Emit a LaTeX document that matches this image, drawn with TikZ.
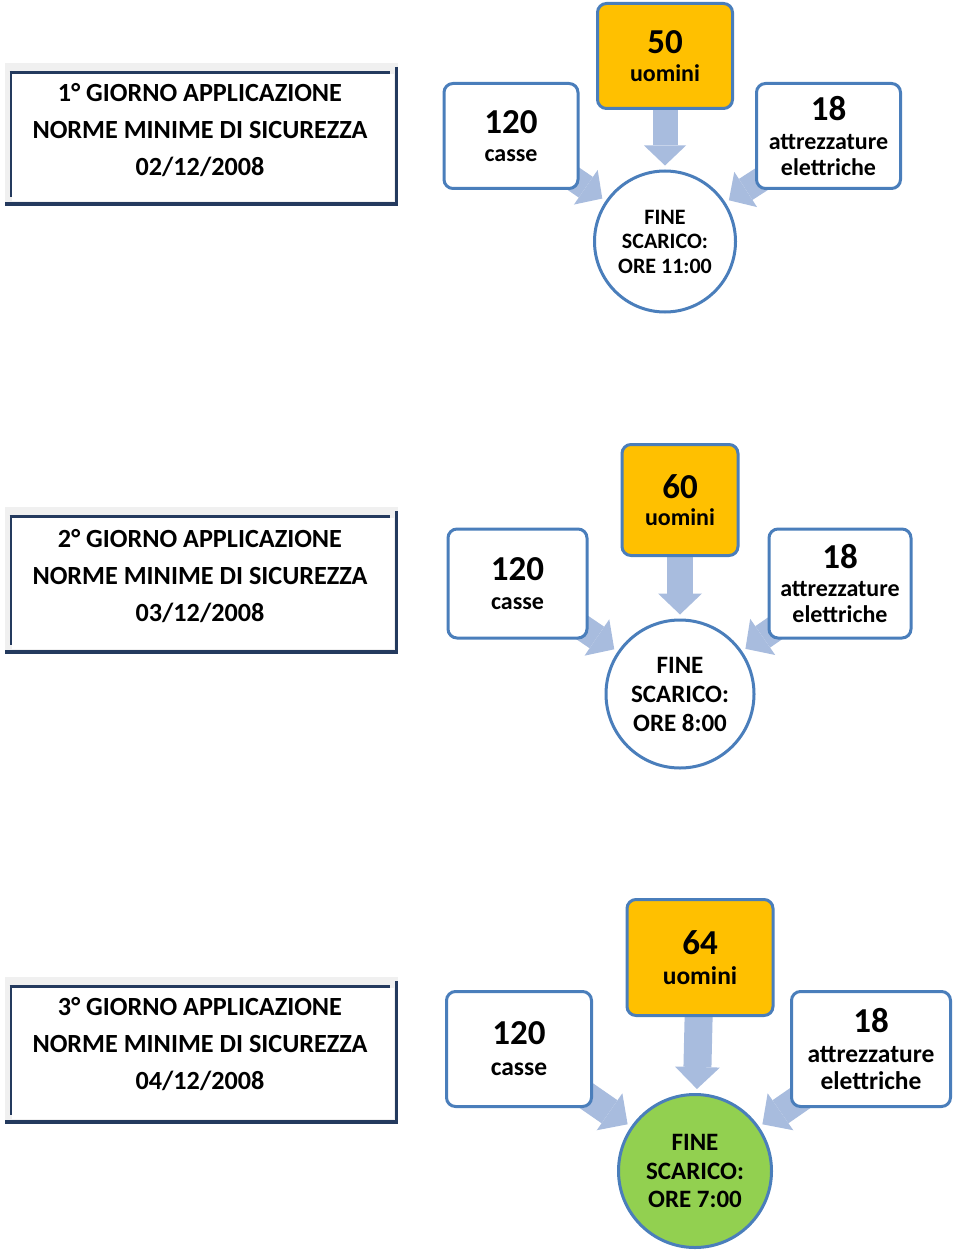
\documentclass[tikz,border=0pt]{standalone}
\usepackage{fontspec}
\setmainfont{Carlito}
\usetikzlibrary{arrows.meta,backgrounds}
\definecolor{boxblue}{RGB}{74,126,187}
\definecolor{arrowblue}{RGB}{168,188,222}
\definecolor{menorange}{RGB}{255,192,0}
\definecolor{endgreen}{RGB}{146,208,80}
\definecolor{framenavy}{RGB}{36,58,94}
\definecolor{framegrey}{RGB}{240,240,240}
\tikzset{
  titletext/.style={align=center, inner sep=0pt, font=\bfseries\fontsize{26.2}{37}\selectfont},
  infobox/.style={draw=boxblue, line width=3pt, rounded corners=9pt, fill=white, align=center, inner sep=0pt, font=\bfseries\fontsize{24}{26}\selectfont},
  menbox/.style={infobox, fill=menorange},
  endcircle/.style={circle, draw=boxblue, line width=3pt, fill=white, align=center, inner sep=0pt},
  flow/.style n args={3}{draw=arrowblue, line width=#1pt, shorten >=4pt,
    -{Triangle[length=#2pt, width=#3pt, line width=0pt]}},
}
\newcommand\bignum[1]{{\fontsize{35}{35}\selectfont #1}}
\newcommand\dayframe[2]{%
  \fill[framegrey] (5,#1-8) rectangle (398,#1+#2+2);
  \fill[white] (12,#1+3) rectangle (394,#1+#2-3);
  \draw[framenavy, line width=3pt] (9.5,#1+1.5) -- (390,#1+1.5);
  \draw[framenavy, line width=2.5pt] (10.75,#1) -- (10.75,#1+#2-7);
  \draw[framenavy, line width=4pt] (5,#1+#2) -- (398,#1+#2);
  \draw[framenavy, line width=2.5pt] (396.5,#1-4) -- (396.5,#1+#2+2);
}
\begin{document}
\begin{tikzpicture}[x=1pt,y=-1pt]
\useasboundingbox (0,0) rectangle (960,1257);

% ---------- Day 1 ----------
\dayframe{71}{133.5}
\node[titletext] (title1) at (200,130) {1° GIORNO APPLICAZIONE\\NORME MINIME DI SICUREZZA\\02/12/2008};
\node[infobox, minimum width=134pt, minimum height=105pt] (casse1) at (511,136) {\bignum{120}\\[2.5pt]casse};
\node[menbox, minimum width=135pt, minimum height=105pt] (men1) at (665,56) {\bignum{50}\\[1.5pt]uomini};
\node[infobox, minimum width=144pt, minimum height=105pt] (tools1) at (828.5,136) {\bignum{18}\\[2.5pt]attrezzature\\elettriche};
\node[endcircle, minimum size=141pt, font=\bfseries\fontsize{22}{24.5}\selectfont] (fine1) at (665,241.5) {FINE\\SCARICO:\\ORE 11:00};
\begin{scope}[on background layer]
  \draw[flow={25}{20}{42}] (casse1.center) -- (fine1);
  \draw[flow={25}{20}{42}] (men1.center) -- (fine1);
  \draw[flow={25}{20}{42}] (tools1.center) -- (fine1);
\end{scope}

% ---------- Day 2 ----------
\dayframe{515}{137}
\node[titletext] (title2) at (200,576) {2° GIORNO APPLICAZIONE\\NORME MINIME DI SICUREZZA\\03/12/2008};
\node[infobox, minimum width=139pt, minimum height=109pt] (casse2) at (517.5,583.5) {\bignum{120}\\[3pt]casse};
\node[menbox, minimum width=116pt, minimum height=111pt] (men2) at (680,500) {\bignum{60}\\[1.5pt]uomini};
\node[infobox, minimum width=142pt, minimum height=109pt] (tools2) at (840,583.5) {\bignum{18}\\[2.5pt]attrezzature\\elettriche};
\node[endcircle, minimum size=148pt, font=\bfseries\fontsize{25}{29}\selectfont] (fine2) at (680,694) {FINE\\SCARICO:\\ORE 8:00};
\begin{scope}[on background layer]
  \draw[flow={26}{21}{44}] (casse2.center) -- (fine2);
  \draw[flow={26}{21}{44}] (men2.center) -- (fine2);
  \draw[flow={26}{21}{44}] (tools2.center) -- (fine2);
\end{scope}

% ---------- Day 3 ----------
\dayframe{985}{137}
\node[titletext] (title3) at (200,1044) {3° GIORNO APPLICAZIONE\\NORME MINIME DI SICUREZZA\\04/12/2008};
\node[infobox, minimum width=145pt, minimum height=115pt, font=\bfseries\fontsize{25.5}{27.5}\selectfont] (casse3) at (519,1049) {\bignum{120}\\[3.5pt]casse};
\node[menbox, minimum width=146pt, minimum height=116pt, font=\bfseries\fontsize{25.5}{27.5}\selectfont] (men3) at (700,957.5) {\bignum{64}\\[3pt]uomini};
\node[infobox, minimum width=159pt, minimum height=115pt, font=\bfseries\fontsize{25.5}{27.5}\selectfont] (tools3) at (871,1049) {\bignum{18}\\[2.5pt]attrezzature\\elettriche};
\node[endcircle, fill=endgreen, minimum size=153pt, font=\bfseries\fontsize{25}{28.5}\selectfont] (fine3) at (695,1171) {FINE\\SCARICO:\\ORE 7:00};
\begin{scope}[on background layer]
  \draw[flow={28}{22}{45}] (casse3.center) -- (fine3);
  \draw[flow={28}{22}{45}] (men3.center) -- (fine3);
  \draw[flow={28}{22}{45}] (tools3.center) -- (fine3);
\end{scope}
\end{tikzpicture}
\end{document}
